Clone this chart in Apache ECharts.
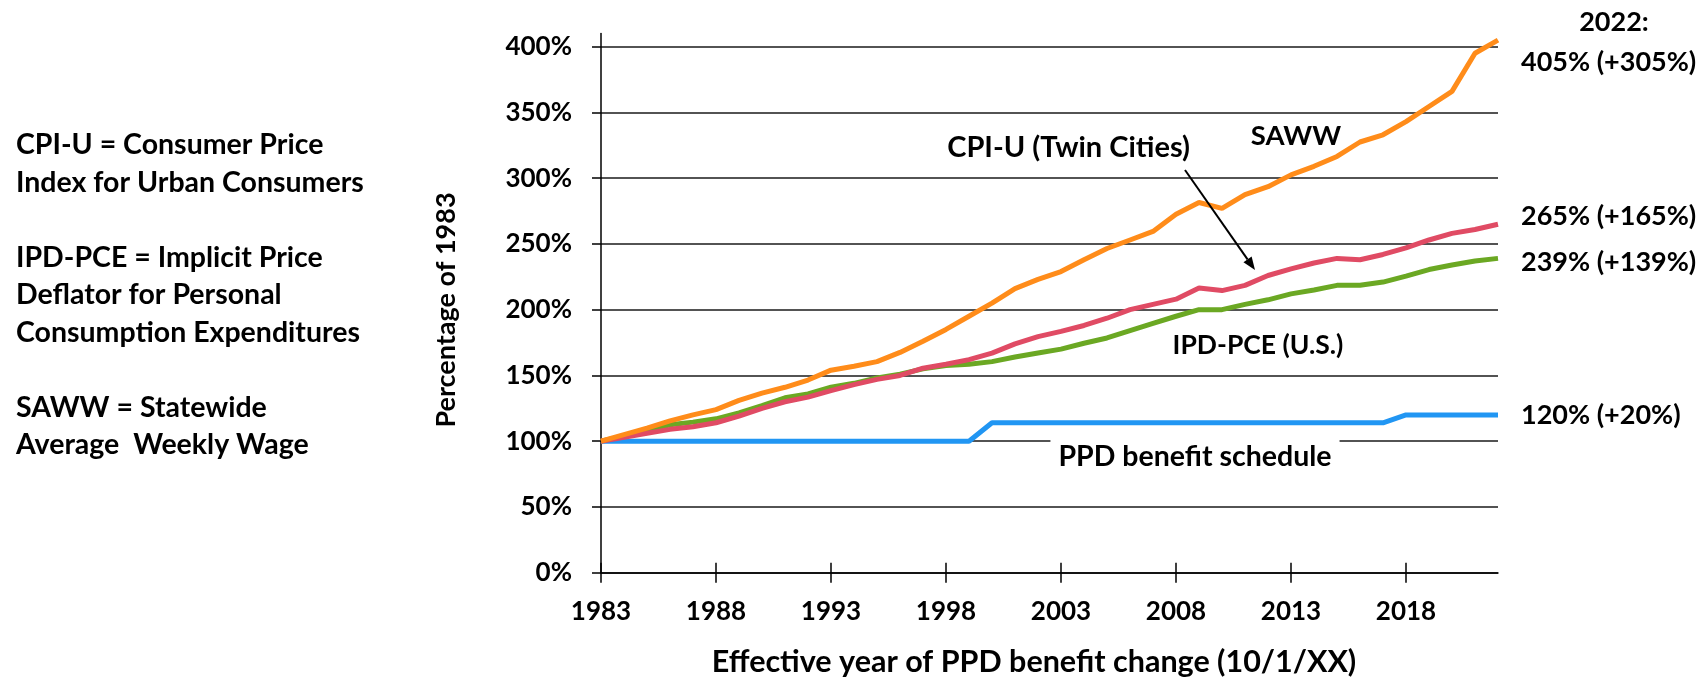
<!DOCTYPE html>
<html>
<head>
<meta charset="utf-8">
<script src="https://cdn.jsdelivr.net/npm/echarts@6/dist/echarts.min.js"></script>
<style>
  html, body { margin: 0; padding: 0; background: #fff; }
  #chartWrap { width: 1706px; height: 682px; }
</style>
</head>
<body>
<div id="chartWrap"></div>
<script>
// years on the x axis (10/1 of each year)
const years = [];
for (let y = 1983; y <= 2022; y++) years.push(String(y));

// percentage of 1983
const saww = [100, 105, 110, 115.5, 120, 124, 131, 136.5, 141, 146.5,
  154, 157, 160.5, 167.5, 176, 185, 195, 205, 216, 223,
  229, 238, 246.5, 253, 259.5, 272.5, 281.5, 277, 287.5, 293.5,
  302.5, 309, 316.5, 327.5, 333, 343, 354.5, 366, 395, 405];
const cpiU = [100, 103, 106, 109, 111, 114, 119, 125, 130, 133.5,
  138.5, 143, 147, 150, 155.5, 158.5, 162, 167, 174, 179.5,
  183.5, 188, 193.5, 200, 204, 208, 216.5, 214.5, 218.5, 226,
  231, 235.5, 239, 238, 242, 247, 253, 258, 261, 265];
const ipdPce = [100, 104, 108, 112.5, 114.5, 117, 121.5, 127, 133, 136,
  141, 144, 148, 151, 155, 157.5, 158.5, 160.5, 164, 167,
  170, 174.5, 178.5, 184, 189.5, 195, 200, 200, 204, 207.5,
  212, 215, 218.5, 218.5, 221, 225.5, 230.5, 234, 237, 239];
const ppd = [100, 100, 100, 100, 100, 100, 100, 100, 100, 100,
  100, 100, 100, 100, 100, 100, 100, 114, 114, 114,
  114, 114, 114, 114, 114, 114, 114, 114, 114, 114,
  114, 114, 114, 114, 114, 120, 120, 120, 120, 120];

const yTicks = [0, 50, 100, 150, 200, 250, 300, 350, 400];

const notes = [
  ['CPI-U = Consumer Price', 'Index for Urban Consumers'],
  ['IPD-PCE = Implicit Price', 'Deflator for Personal', 'Consumption Expenditures'],
  ['SAWW = Statewide', 'Average  Weekly Wage']
];
const endLabels = ['405% (+305%)', '265% (+165%)', '239% (+139%)', '120% (+20%)'];

const FONT = 'Lato';
const txt = (x, y, text, align, size, extra) => ({
  type: 'text', x: x, y: y, z: 100,
  style: Object.assign({
    text: text, fill: '#000', font: 'bold ' + (size || 27) + 'px ' + FONT,
    textAlign: align || 'left', textVerticalAlign: 'middle'
  }, extra || {})
});

const graphics = [];
// left notes
let noteY = 145;
notes.forEach(group => {
  group.forEach(line => {
    graphics.push(txt(16, noteY, line, 'left', 28.5));
    noteY += 37.5;
  });
  noteY += 37.5;
});
// right end labels
graphics.push(txt(1614, 22, '2022:', 'center', 27));
graphics.push(txt(1521, 62, endLabels[0], 'left', 27));
graphics.push(txt(1521, 216, endLabels[1], 'left', 27));
graphics.push(txt(1521, 262, endLabels[2], 'left', 27));
graphics.push(txt(1521, 415, endLabels[3], 'left', 27));
// series names inside the plot
graphics.push(txt(1190, 148, 'CPI-U (Twin Cities)', 'right', 29));
graphics.push(txt(1296, 136, 'SAWW', 'center', 27.5));
graphics.push(txt(1258, 345, 'IPD-PCE (U.S.)', 'center', 26.5));
graphics.push(txt(1195, 457, 'PPD benefit schedule', 'center', 28.5, {
  backgroundColor: '#fff', padding: [8, 8, 6, 8]
}));
// axis names
graphics.push(txt(1034, 662, 'Effective year of PPD benefit change (10/1/XX)', 'center', 30.5));
graphics.push({
  type: 'text', x: 446, y: 310, rotation: Math.PI / 2, z: 100,
  style: { text: 'Percentage of 1983', fill: '#000', font: 'bold 27px ' + FONT,
    textAlign: 'center', textVerticalAlign: 'middle' }
});
// arrow from CPI-U label to its line
const a0 = [1185, 170], a1 = [1255, 270];
const dx = a1[0] - a0[0], dy = a1[1] - a0[1], len = Math.sqrt(dx * dx + dy * dy);
const ux = dx / len, uy = dy / len;
const bx = a1[0] - 13 * ux, by = a1[1] - 13 * uy;
graphics.push({ type: 'line', z: 100, shape: { x1: a0[0], y1: a0[1], x2: bx, y2: by },
  style: { stroke: '#000', lineWidth: 2 } });
graphics.push({ type: 'polygon', z: 100, shape: { points: [
  a1, [bx - 5 * uy, by + 5 * ux], [bx + 5 * uy, by - 5 * ux]] },
  style: { fill: '#000' } });

const option = {
  animation: false,
  textStyle: { fontFamily: FONT },
  grid: { left: 601, right: 208, top: 33.5, bottom: 109.3, containLabel: false },
  xAxis: [{
    type: 'category', data: years, boundaryGap: false,
    axisLine: { lineStyle: { color: '#000', width: 1.5 } },
    axisTick: { interval: 4, length: 10, lineStyle: { color: '#000', width: 1.5 } },
    axisLabel: { interval: 4, margin: 26, color: '#000', fontSize: 26, fontWeight: 'bold', fontFamily: FONT },
    splitLine: { show: false }
  }, {
    type: 'category', data: years, boundaryGap: false, position: 'bottom',
    axisLine: { show: false },
    axisTick: { inside: true, interval: 4, length: 10, lineStyle: { color: '#000', width: 1.5 } },
    axisLabel: { show: false },
    splitLine: { show: false }
  }],
  yAxis: {
    type: 'value', min: 0, max: 410, interval: 50,
    axisLine: { show: true, lineStyle: { color: '#000', width: 1.5 } },
    axisTick: { show: true, length: 9, customValues: yTicks, lineStyle: { color: '#000', width: 1.5 } },
    axisLabel: { customValues: yTicks, margin: 29, color: '#000',
      fontSize: 26, fontWeight: 'bold', fontFamily: FONT, formatter: '{value}%' },
    splitLine: { show: true, lineStyle: { color: '#1a1a1a', width: 1.5 } }
  },
  series: [
    { name: 'PPD benefit schedule', type: 'line', data: ppd, symbol: 'none',
      lineStyle: { color: '#2196F3', width: 5 } },
    { name: 'IPD-PCE (U.S.)', type: 'line', data: ipdPce, symbol: 'none',
      lineStyle: { color: '#6BA823', width: 5 } },
    { name: 'CPI-U (Twin Cities)', type: 'line', data: cpiU, symbol: 'none',
      lineStyle: { color: '#E04B64', width: 5 } },
    { name: 'SAWW', type: 'line', data: saww, symbol: 'none',
      lineStyle: { color: '#FF8C1A', width: 5 } }
  ],
  graphic: graphics
};

const chart = echarts.init(document.getElementById('chartWrap'));
chart.setOption(option);
</script>
</body>
</html>
